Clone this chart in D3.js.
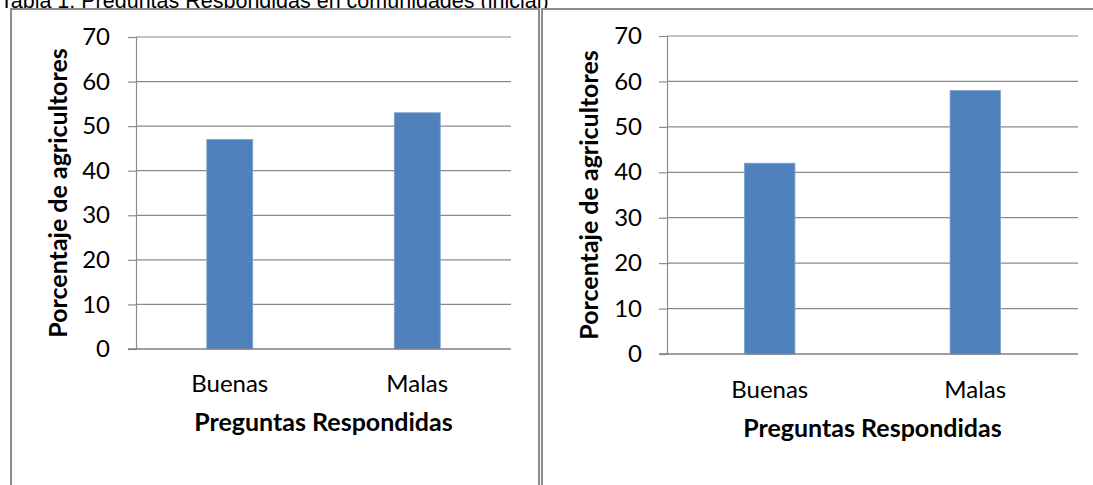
<!DOCTYPE html>
<html>
<head>
<meta charset="utf-8">
<script src="https://cdn.jsdelivr.net/npm/d3@7"></script>
<style>
  html, body { margin: 0; padding: 0; background: #fff; }
  svg { display: block; }
</style>
</head>
<body>
<svg id="chart" width="1093" height="485"></svg>
<script>
// Data
const categories = ["Buenas", "Malas"];
const valuesInicial = [47, 53];
const valuesFinal = [42, 58];
const yTickValues = [0, 10, 20, 30, 40, 50, 60, 70];
const yTitle = "Porcentaje de agricultores";
const xTitle = "Preguntas Respondidas";
const caption = "Tabla 1: Preguntas Respondidas en comunidades (inicial)";

const svg = d3.select("#chart");
const fontFamily = "Lato, 'Open Sans', sans-serif";
const gridColor = "#8a8a8a";
const barColor = "#4f81bd";
const frameColor = "#8c8c8c";
const labelSize = 24;
const titleSize = 25;

// Caption line, clipped by the top of the page
svg.append("text")
  .attr("x", 0).attr("y", 8)
  .attr("font-family", "'Liberation Sans', Arial, sans-serif")
  .attr("font-size", 21.5)
  .attr("fill", "#000")
  .text(caption);

// Panel frames (double rule between them)
svg.append("rect")
  .attr("x", 11).attr("y", 9).attr("width", 528).attr("height", 500)
  .attr("fill", "#fff").attr("stroke", frameColor).attr("stroke-width", 2);
svg.append("rect")
  .attr("x", 542).attr("y", 9).attr("width", 600).attr("height", 500)
  .attr("fill", "#fff").attr("stroke", frameColor).attr("stroke-width", 2);

function drawPanel(values, box) {
  const g = svg.append("g");

  const x = d3.scaleBand()
    .domain(categories)
    .range([box.left, box.right])
    .paddingInner(0.755)
    .paddingOuter(0.3775);

  const y = d3.scaleLinear()
    .domain([0, 70])
    .range([box.bottom, box.top]);

  // Horizontal gridlines
  g.append("g").selectAll("line")
    .data(yTickValues.filter(v => v > 0))
    .join("line")
    .attr("x1", box.left).attr("x2", box.right)
    .attr("y1", d => y(d)).attr("y2", d => y(d))
    .attr("stroke", gridColor).attr("stroke-width", 1.2);

  // Bars
  g.append("g").selectAll("rect")
    .data(values)
    .join("rect")
    .attr("x", (d, i) => x(categories[i]))
    .attr("width", x.bandwidth())
    .attr("y", d => y(d))
    .attr("height", d => y(0) - y(d))
    .attr("fill", barColor)
    .attr("stroke", "#7aa0cf").attr("stroke-width", 0.8);

  // Value axis
  const yAxis = d3.axisLeft(y)
    .tickValues(yTickValues)
    .tickSize(8)
    .tickPadding(box.labelGap)
    .tickFormat(d3.format("d"));
  const ya = g.append("g")
    .attr("transform", `translate(${box.left},0)`)
    .call(yAxis);
  ya.select(".domain").attr("stroke", gridColor).attr("stroke-width", 1.2);
  ya.selectAll(".tick line").attr("stroke", gridColor).attr("stroke-width", 1.2);
  ya.selectAll(".tick text")
    .attr("font-family", fontFamily).attr("font-size", labelSize).attr("fill", "#000");

  // Category axis
  const xAxis = d3.axisBottom(x).tickSize(0).tickPadding(0);
  const xa = g.append("g")
    .attr("transform", `translate(0,${box.bottom})`)
    .call(xAxis);
  xa.select(".domain").remove();
  xa.append("line")
    .attr("x1", box.left - 8).attr("x2", box.right)
    .attr("y1", 0).attr("y2", 0)
    .attr("stroke", "#7f7f7f").attr("stroke-width", 1.6);
  xa.selectAll(".tick text")
    .attr("y", box.catBase).attr("dy", 0)
    .attr("font-family", fontFamily).attr("font-size", labelSize).attr("fill", "#000");

  // Axis titles
  g.append("text")
    .attr("x", (box.left + box.right) / 2)
    .attr("y", box.bottom + box.xTitleBase)
    .attr("text-anchor", "middle")
    .attr("font-family", fontFamily).attr("font-size", titleSize).attr("font-weight", "bold")
    .attr("fill", "#000")
    .text(xTitle);

  g.append("text")
    .attr("transform", `translate(${box.left - box.yTitleOffset},${(box.top + box.bottom) / 2}) rotate(-90)`)
    .attr("text-anchor", "middle")
    .attr("font-family", fontFamily).attr("font-size", titleSize).attr("font-weight", "bold")
    .attr("fill", "#000")
    .text(yTitle);
}

drawPanel(valuesInicial, {
  left: 136, right: 511, top: 37, bottom: 349,
  labelGap: 18, catBase: 43, xTitleBase: 82, yTitleOffset: 69
});

drawPanel(valuesFinal, {
  left: 667, right: 1078, top: 36, bottom: 354,
  labelGap: 17, catBase: 44, xTitleBase: 83, yTitleOffset: 69
});
</script>
</body>
</html>
